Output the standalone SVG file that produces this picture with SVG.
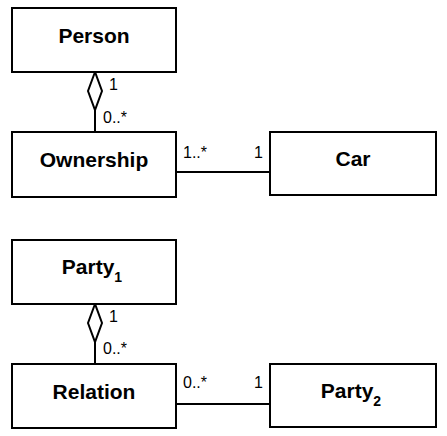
<svg xmlns="http://www.w3.org/2000/svg" width="447" height="436" viewBox="0 0 447 436">
<defs>
<style>
.box{fill:#fff;stroke:#000;stroke-width:2}
.name{font-family:"Liberation Sans",Arial,sans-serif;font-weight:bold;font-size:21px;text-anchor:middle;fill:#000}
.sub{font-size:14px}
.mult{font-family:"Liberation Sans",Arial,sans-serif;font-size:16px;fill:#000}
.line{stroke:#000;stroke-width:2;fill:none}
.dia{fill:#fff;stroke:#000;stroke-width:2}
</style>
</defs>
<rect width="447" height="436" fill="#fff"/>
<g id="connectors">
<line class="line" x1="95" y1="110" x2="95" y2="132"/>
<polygon class="dia" points="95,72 88,91 95,110 102,91"/>
<line class="line" x1="176" y1="172" x2="270" y2="172"/>
<line class="line" x1="95" y1="342" x2="95" y2="364"/>
<polygon class="dia" points="95,304 88,323 95,342 102,323"/>
<line class="line" x1="176" y1="404" x2="270" y2="404"/>
<text class="mult" x="109" y="90">1</text>
<text class="mult" x="103" y="123">0..*</text>
<text class="mult" x="183" y="158">1..*</text>
<text class="mult" x="254" y="158">1</text>
<text class="mult" x="109" y="322">1</text>
<text class="mult" x="103" y="354">0..*</text>
<text class="mult" x="183" y="388">0..*</text>
<text class="mult" x="254" y="388">1</text>
</g>
<g id="person">
<rect class="box" x="12" y="8" width="164" height="64"/>
<text class="name" x="94" y="43">Person</text>
</g>
<g id="ownership">
<rect class="box" x="12" y="132" width="164" height="65"/>
<text class="name" x="94" y="167">Ownership</text>
</g>
<g id="car">
<rect class="box" x="270" y="132" width="166" height="63"/>
<text class="name" x="353" y="166">Car</text>
</g>
<g id="party1">
<rect class="box" x="12" y="240" width="164" height="64"/>
<text class="name" x="92" y="274">Party<tspan class="sub" dy="8">1</tspan></text>
</g>
<g id="relation">
<rect class="box" x="12" y="364" width="164" height="64"/>
<text class="name" x="94" y="399">Relation</text>
</g>
<g id="party2">
<rect class="box" x="270" y="364" width="166" height="63"/>
<text class="name" x="351" y="398">Party<tspan class="sub" dy="8">2</tspan></text>
</g>
</svg>
